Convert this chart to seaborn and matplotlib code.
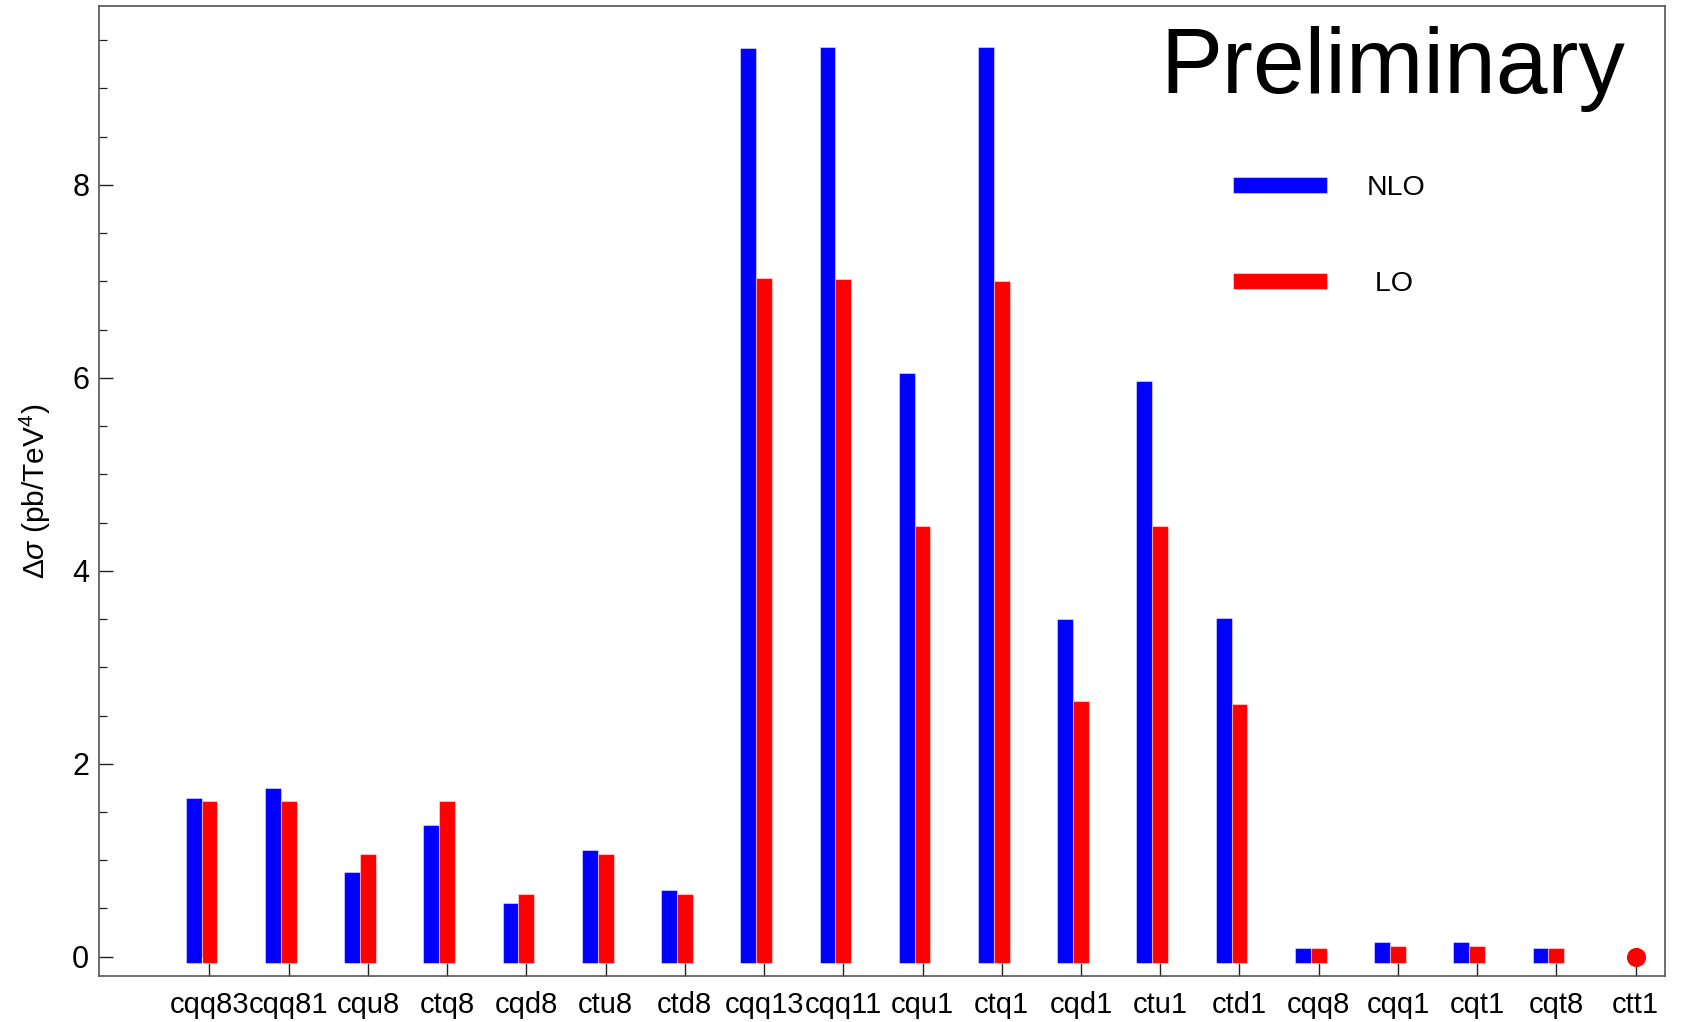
import numpy as np
import pandas as pd
import matplotlib.pyplot as plt
from matplotlib.ticker import MultipleLocator
import seaborn as sns

# Data
operators = ["cqq83", "cqq81", "cqu8", "ctq8", "cqd8", "ctu8", "ctd8", "cqq13", "cqq11",
             "cqu1", "ctq1", "cqd1", "ctu1", "ctd1", "cqq8", "cqq1", "cqt1", "cqt8", "ctt1"]
nlo = [1.64, 1.75, 0.88, 1.37, 0.56, 1.11, 0.69, 9.42, 9.43, 6.05, 9.43, 3.50, 5.97, 3.51,
       0.09, 0.15, 0.15, 0.09, 0.0]
lo = [1.61, 1.61, 1.06, 1.61, 0.645, 1.06, 0.645, 7.03, 7.02, 4.46, 7.0, 2.65, 4.46, 2.62,
      0.09, 0.11, 0.11, 0.09, 0.0]
orders = ["NLO", "LO"]
colors = ["#0000ff", "#ff0000"]

df = pd.DataFrame({
    "operator": operators * 2,
    "value": nlo + lo,
    "order": ["NLO"] * len(operators) + ["LO"] * len(operators),
})
# zero entries get a dot instead of a bar
bars = df.assign(value=df["value"].where(df["value"] > 0))

sns.set_style("ticks")
plt.rcParams["font.family"] = ["Liberation Sans", "DejaVu Sans"]
plt.rcParams["mathtext.fontset"] = "custom"
plt.rcParams["mathtext.rm"] = "Liberation Sans"
plt.rcParams["mathtext.it"] = "Liberation Sans:italic"
plt.rcParams["text.color"] = "black"
plt.rcParams["axes.labelcolor"] = "black"
plt.rcParams["xtick.labelcolor"] = "black"
plt.rcParams["ytick.labelcolor"] = "black"

fig, ax = plt.subplots(figsize=(16.84, 10.22), dpi=100)
fig.subplots_adjust(left=0.0587, right=0.9887, bottom=0.045, top=0.9937)

sns.barplot(data=bars, x="operator", y="value", hue="order", order=operators,
            hue_order=orders, palette=colors, width=0.4, saturation=1,
            edgecolor=(1, 1, 1, 0.45), linewidth=0.8, errorbar=None, ax=ax)

# bars in the original start slightly below zero
base = -0.07
for p in ax.patches:
    h = p.get_height()
    if np.isfinite(h):
        p.set_y(base)
        p.set_height(h - base)

half = 0.1  # ticks sit under the LO bar
pos = {op: i + half for i, op in enumerate(operators)}
zero_lo = df[(df["value"] == 0) & (df["order"] == "LO")]
ax.scatter(zero_lo["operator"].map(pos), zero_lo["value"], s=190, color="#ff0000",
           zorder=3, linewidths=0)

ax.set_xticks([pos[op] for op in operators], operators)
ax.set_xlim(half - 1.396, len(operators) - 1 + half + 0.37)
ax.set_ylim(-0.2, 9.85)
ax.set_yticks([0, 2, 4, 6, 8])
ax.yaxis.set_minor_locator(MultipleLocator(0.5))
ax.set_xlabel("")
ax.set_ylabel(r"$\Delta\sigma$ (pb/TeV$^4$)", fontsize=21.5)
ax.yaxis.set_label_coords(-0.029, 0.5)

ax.tick_params(axis="y", which="major", direction="in", length=10, width=1,
               pad=7, labelsize=22, color="#222222")
ax.tick_params(axis="y", which="minor", direction="in", length=5.5, width=0.9,
               color="#222222")
ax.tick_params(axis="x", which="major", direction="in", length=10.5, width=1,
               pad=11, labelsize=21, color="#222222")
for s in ax.spines.values():
    s.set_color("#555555")
    s.set_linewidth(1.2)

ax.text(0.9745, 0.9104, "Preliminary", transform=ax.transAxes, ha="right",
        va="baseline", fontsize=67, color="black")

sns.move_legend(ax, loc="upper left", bbox_to_anchor=(0.732, 0.8287),
                bbox_transform=fig.transFigure, title=None, frameon=False,
                fontsize=20.5, handlelength=3.3, handleheight=0.5,
                handletextpad=1.4, labelspacing=2.46, borderpad=0,
                borderaxespad=0)
ax.get_legend().get_texts()[1].set_text(" LO")

fig.savefig("out.png", dpi=100)
